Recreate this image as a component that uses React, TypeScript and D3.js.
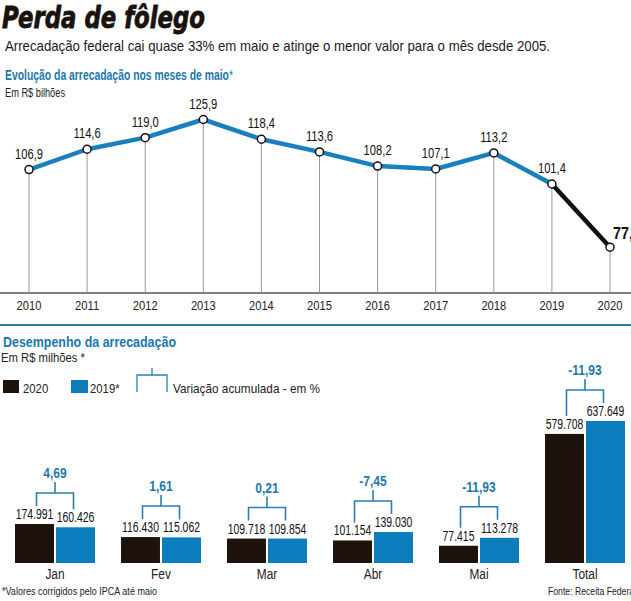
import React from "react";
import * as d3 from "d3";

const years = ["2010","2011","2012","2013","2014","2015","2016","2017","2018","2019","2020"];
const mayValues = [106.9,114.6,119.0,125.9,118.4,113.6,108.2,107.1,113.2,101.4,77.4];

const months = ["Jan","Fev","Mar","Abr","Mai","Total"];
const values2020 = [174.991,116.430,109.718,101.154,77.415,579.708];
const values2019 = [160.426,115.062,109.854,139.030,113.278,637.649];
const variation = ["4,69","1,61","0,21","-7,45","-11,93","-11,93"];

const W = 631, H = 601;
const SANS = "'Liberation Sans', Arial, sans-serif";
const BLUE_LINE = "#1a7fbf";
const BLUE_BAR = "#0b7dbd";
const BLUE_TXT = "#1a78ad";
const DARK = "#1e130c";

const fmtBR = (v: number) => v.toFixed(1).replace(".", ",");
const fmtK = (v: number) => v.toFixed(3);

type TP = {
  x: number; y: number; sx?: number; size: number; weight?: number; fill?: string;
  anchor?: "start" | "middle" | "end"; children: React.ReactNode; len?: number;
};
function T({ x, y, sx = 0.8, size, weight = 400, fill = "#1a1a1a", anchor = "start", children, len }: TP) {
  if (len) {
    return (
      <text x={x} y={y} fontFamily={SANS} fontSize={size} fontWeight={weight} fill={fill} textAnchor={anchor}
        textLength={len} lengthAdjust="spacingAndGlyphs">{children}</text>
    );
  }
  return (
    <text transform={`translate(${x},${y}) scale(${sx},1)`} fontFamily={SANS} fontSize={size} fontWeight={weight}
      fill={fill} textAnchor={anchor}>{children}</text>
  );
}

export default function App() {
  const x = d3.scalePoint<string>().domain(years).range([29, 610]);
  const y = d3.scaleLinear().domain([60, 125.9]).range([293, 119.5]);
  const pts = years.map((yr, i) => ({ yr, v: mayValues[i], x: x(yr)!, y: y(mayValues[i]) }));
  const lineGen = d3.line<{ x: number; y: number }>().x(d => d.x).y(d => d.y);
  const bluePts = pts.slice(0, pts.length - 1);
  const blackPts = pts.slice(pts.length - 2);

  const band = d3.scaleBand<string>().domain(months).range([15, 15 + 106 * 5 + 80]).paddingInner(26 / 106).paddingOuter(0);
  const yb = d3.scaleLinear().domain([0, 637.649]).range([563, 421]);
  const sub = d3.scaleBand<string>().domain(["2020", "2019"]).range([0, band.bandwidth()]).paddingInner(0.05);

  return (
    <svg width={W} height={H} style={{ position: "absolute", left: 0, top: 0, background: "#fff" }}>
      <text x={2} y={28} fontFamily="'DejaVu Sans Condensed', 'DejaVu Sans', sans-serif" fontWeight={900} fontStyle="italic"
        fontSize={30} fill="#1a120c" stroke="#1a120c" strokeWidth={0.8} textLength={203} lengthAdjust="spacingAndGlyphs">Perda de fôlego</text>
      <T x={5} y={51} size={15} len={545}>Arrecadação federal cai quase 33% em maio e atinge o menor valor para o mês desde 2005.</T>

      <text x={5} y={80} fontFamily={SANS} fontWeight={700} fontSize={14.5} fill={BLUE_TXT} textLength={228} lengthAdjust="spacingAndGlyphs">Evolução da arrecadação nos meses de maio<tspan fontWeight={400}>*</tspan></text>
      <T x={5} y={97} size={13} len={60} fill="#222">Em R$ bilhões</T>

      <line x1={0} x2={W} y1={293} y2={293} stroke="#555" strokeWidth={1.5} />
      {pts.map(p => (
        <line key={"v" + p.yr} x1={p.x} x2={p.x} y1={p.y} y2={293} stroke="#999" strokeWidth={1} />
      ))}
      {pts.map(p => (
        <T key={"yr" + p.yr} x={p.x} y={310} anchor="middle" size={13} sx={0.86} fill="#222">{p.yr}</T>
      ))}
      <path d={lineGen(bluePts)!} fill="none" stroke={BLUE_LINE} strokeWidth={4.5} strokeLinejoin="round" />
      <path d={lineGen(blackPts)!} fill="none" stroke="#111" strokeWidth={4.5} strokeLinecap="round" />
      {pts.map(p => (
        <circle key={"c" + p.yr} cx={p.x} cy={p.y} r={4} fill="#fff" stroke="#111" strokeWidth={1.5} />
      ))}
      {pts.map((p, i) =>
        i === pts.length - 1 ? (
          <T key={"l" + p.yr} x={p.x + 3} y={p.y - 8} size={17} weight={700} sx={0.85} fill="#111">{fmtBR(p.v)}</T>
        ) : (
          <T key={"l" + p.yr} x={p.x} y={p.y - 11} anchor="middle" size={14} sx={0.8} fill="#111">{fmtBR(p.v)}</T>
        )
      )}

      <line x1={0} x2={W} y1={325} y2={325} stroke="#2a78ad" strokeWidth={2} />

      <T x={3} y={347} size={14.5} weight={700} fill={BLUE_TXT} len={173}>Desempenho da arrecadação</T>
      <T x={1} y={362} size={13} fill="#222" len={84}>Em R$ milhões *</T>

      <rect x={3} y={380} width={16} height={13} fill={DARK} />
      <T x={23} y={393} size={13.5} fill="#222" sx={0.84}>2020</T>
      <rect x={71} y={380} width={17} height={13} fill={BLUE_BAR} />
      <T x={90} y={393} size={13.5} fill="#222" sx={0.84}>2019*</T>
      <path d="M137,392 V375 H167 V392 M152,375 V368" fill="none" stroke="#2a7fb0" strokeWidth={1.3} />
      <T x={173} y={393} size={13.5} fill="#222" len={147}>Variação acumulada - em %</T>

      {months.map((m, i) => {
        const gx = band(m)!;
        const cx = gx + band.bandwidth() / 2;
        const bars = [
          { key: "2020", v: values2020[i], fill: DARK },
          { key: "2019", v: values2019[i], fill: BLUE_BAR },
        ];
        const legX = [cx - 18.5, cx + 18.5];
        const labelTops = bars.map(b => yb(b.v) - 16);
        const legBottoms = labelTops.map(t => t - 2);
        const hy = Math.min(...legBottoms) - 13;
        return (
          <g key={m}>
            {bars.map(b => {
              const bx = gx + sub(b.key)!;
              return (
                <g key={b.key}>
                  <rect x={bx} y={yb(b.v)} width={sub.bandwidth()} height={563 - yb(b.v)} fill={b.fill} />
                  <T x={bx + sub.bandwidth() / 2} y={yb(b.v) - 5} anchor="middle" size={14.5} sx={0.72} fill="#111">{fmtK(b.v)}</T>
                </g>
              );
            })}
            <path d={`M${legX[0]},${legBottoms[0]} V${hy} H${legX[1]} V${legBottoms[1]} M${cx},${hy} V${hy - 11}`} fill="none" stroke="#2a7fb0" strokeWidth={1.6} />
            <T x={cx} y={hy - 15} anchor="middle" size={15} weight={700} sx={0.8} fill={BLUE_TXT}>{variation[i]}</T>
            <T x={cx} y={579} anchor="middle" size={14.5} sx={0.82} fill="#222">{m}</T>
          </g>
        );
      })}

      <T x={2} y={595} size={11} fill="#222" len={155}>*Valores corrigidos pelo IPCA até maio</T>
      <T x={548} y={595} size={11} fill="#222" len={88}>Fonte: Receita Federal</T>
    </svg>
  );
}
